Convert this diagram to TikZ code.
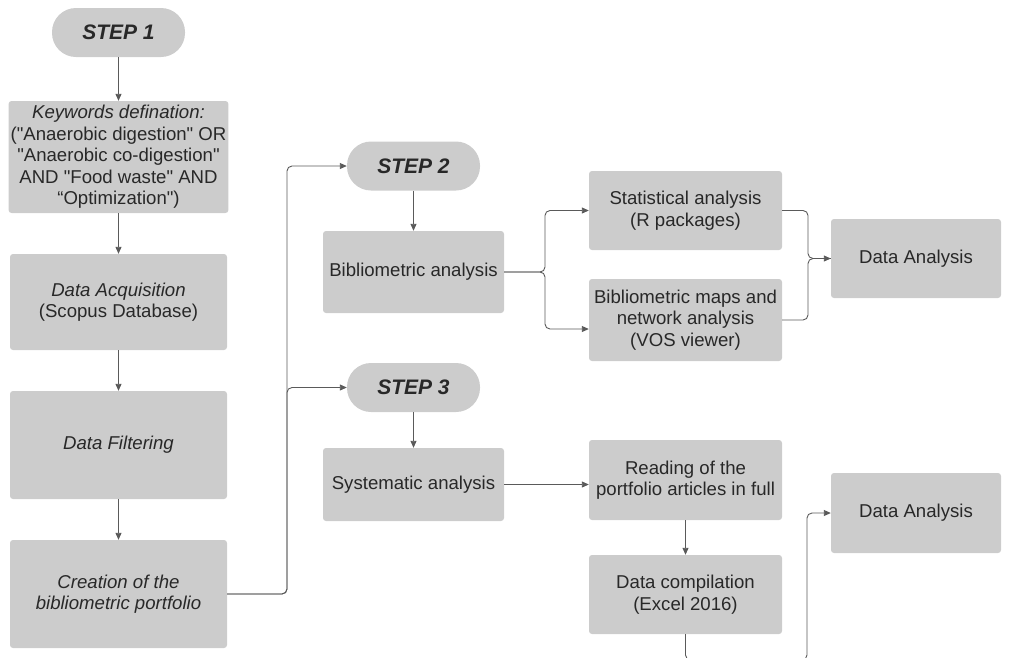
\documentclass[tikz,border=0pt]{standalone}
\usepackage{fontspec}
\setmainfont{Liberation Sans}
\usepackage{xcolor}
\usepackage{tikz}
\usetikzlibrary{arrows.meta,calc}
\definecolor{boxfill}{RGB}{204,204,204}
\definecolor{inkgray}{RGB}{40,40,40}
\definecolor{wiregray}{RGB}{90,90,90}
\newcommand{\dq}{\textquotedbl}
\tikzset{
  box/.style={
    fill=boxfill,
    rounded corners=3pt,
    align=center,
    inner sep=2pt,
    text=inkgray,
    font=\fontsize{18.6}{21.5}\selectfont
  },
  stepbox/.style={box, rounded corners=24pt, minimum width=133pt, minimum height=49pt,
    font=\fontsize{21}{24}\selectfont\bfseries\itshape},
  left/.style={box, minimum width=217pt},
  mid/.style={box, minimum width=181pt},
  right/.style={box, minimum width=193pt, minimum height=80pt},
  result/.style={box, minimum width=170pt, minimum height=80pt},
  wire/.style={draw=wiregray, line width=0.9pt, rounded corners=5pt},
  conn/.style={wire, -{Triangle[length=7pt,width=6pt]}}
}

\begin{document}
\begin{tikzpicture}[x=1pt,y=-1pt]
    \useasboundingbox (0,0) rectangle (1011,657);

    % step 1 column
    \node[stepbox] (step1) at (118.5,32.5) {STEP 1};
    \node[left, minimum height=112pt] (keywords) at (118.5,157)
      {\itshape Keywords defination:\\(\dq Anaerobic digestion\dq{} OR\\\dq Anaerobic co-digestion\dq\\AND \dq Food waste\dq{} AND\\``Optimization\dq)};
    \node[left, minimum height=96pt] (acquire) at (118.5,302)
      {\itshape Data Acquisition\\(Scopus Database)};
    \node[left, minimum height=108pt] (filter) at (118.5,445) {\itshape Data Filtering};
    \node[left, minimum height=108pt] (portfolio) at (118.5,594)
      {\itshape Creation of the\\\itshape bibliometric portfolio};

    % step 2 and step 3 column
    \node[stepbox] (step2) at (413.5,166) {STEP 2};
    \node[mid, minimum height=82pt] (biblio) at (413.5,272) {Bibliometric analysis};
    \node[stepbox] (step3) at (413.5,387.5) {STEP 3};
    \node[mid, minimum height=73pt] (system) at (413.5,484.5) {Systematic analysis};

    % tools
    \node[right, minimum height=79pt] (stats) at (685.5,210.5) {Statistical analysis\\(R packages)};
    \node[right, minimum height=82pt] (maps) at (685.5,320) {Bibliometric maps and\\network analysis\\(VOS viewer)};
    \node[right] (reading) at (685.5,480) {Reading of the\\portfolio articles in full};
    \node[right, minimum height=79pt] (compile) at (685.5,594.5) {Data compilation\\(Excel 2016)};

    % results
    \node[result, minimum height=79pt] (analysis1) at (916,258.5) {Data Analysis};
    \node[result] (analysis2) at (916,513) {Data Analysis};

    \coordinate (trunk) at (287,0);
    \coordinate (fork) at (545,0);
    \coordinate (join) at (808,0);
    \coordinate (bend) at (807,660);

    \draw[conn] (step1) -- (keywords);
    \draw[conn] (keywords) -- (acquire);
    \draw[conn] (acquire) -- (filter);
    \draw[conn] (filter) -- (portfolio);

    \draw[conn] (portfolio.east) -| (trunk |- step2.west) -- (step2.west);
    \draw[conn] (portfolio.east) -| (trunk |- step3.west) -- (step3.west);
    \draw[conn] (step2) -- (biblio);
    \draw[conn] (step3) -- (system);

    \draw[conn] (biblio.east) -| (fork |- stats.west) -- (stats.west);
    \draw[conn] (biblio.east) -| (fork |- 0,329) -- (maps.west |- 0,329);
    \draw[conn] (stats.east) -| (join |- analysis1.west) -- (analysis1.west);
    \draw[wire] (maps.east) -| (join |- analysis1.west) -- (analysis1.west);

    \draw[conn] (system.east) -- (reading.west |- system.east);
    \draw[conn] (reading) -- (compile);
    \draw[conn] (compile.south) |- (bend) |- (analysis2.west);
\end{tikzpicture}
\end{document}
